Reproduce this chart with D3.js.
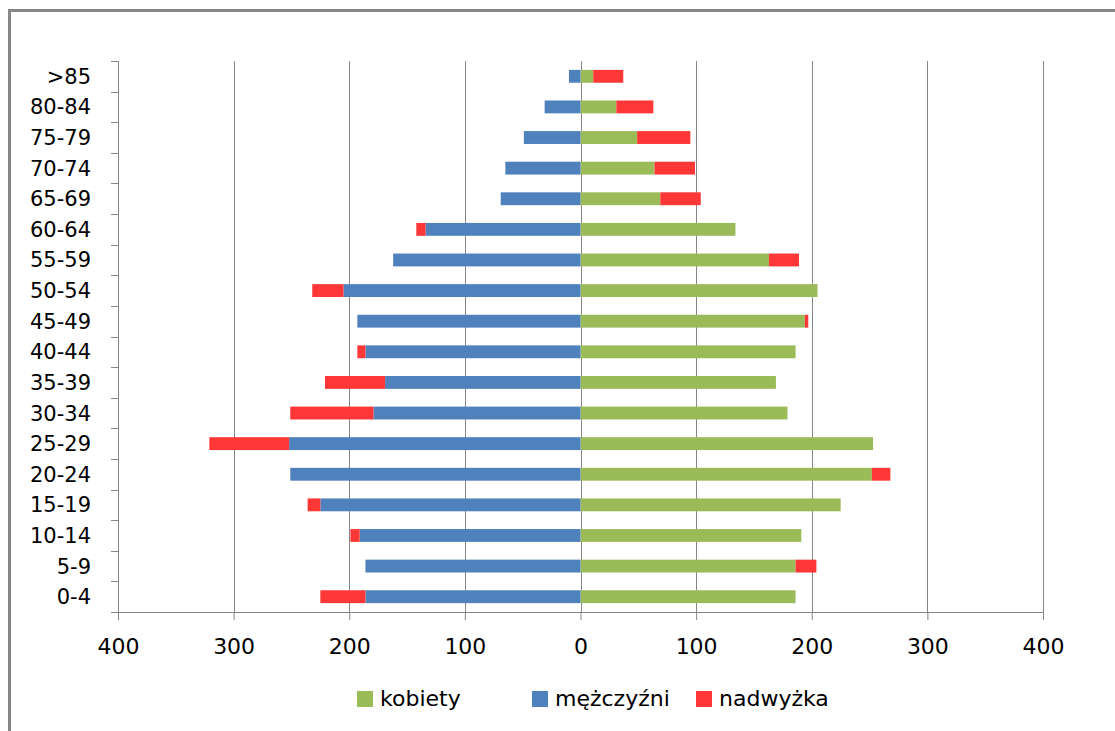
<!DOCTYPE html>
<html>
<head>
<meta charset="utf-8">
<script src="https://cdn.jsdelivr.net/npm/d3@7"></script>
<style>
  html, body { margin: 0; padding: 0; background: #fff; }
  svg { display: block; }
  text { font-family: "DejaVu Sans", sans-serif; fill: #000; }
</style>
</head>
<body>
<svg id="chart" width="1115" height="731"></svg>
<script>
// Age groups (bottom to top as in the source sheet)
const categories = ["0-4","5-9","10-14","15-19","20-24","25-29","30-34","35-39","40-44",
                    "45-49","50-54","55-59","60-64","65-69","70-74","75-79","80-84",">85"];
// kobiety (women, right side)
const kobiety    = [186,186,191,225,252,253,179,169,186,194,205,163,134,69,64,49,31,11];
// mężczyźni (men, left side)
const mezczyzni  = [186,186,191,225,251,252,179,169,186,193,205,162,134,69,65,49,31,10];
// nadwyżka (surplus: positive = women side, negative = men side)
const nadwyzka   = [-39,18,-8,-11,16,-69,-72,-52,-7,3,-27,26,-8,35,35,46,32,26];
// axis ticks
const xTicks = [-400,-300,-200,-100,0,100,200,300,400];
const seriesNames = ["kobiety","mężczyźni","nadwyżka"];
const colors = { "kobiety": "#9BBB59", "mężczyźni": "#4F81BD", "nadwyżka": "#FF3737" };

(function draw() {
const svg = d3.select("#chart");

// outer frame (extends beyond the visible area, as in the reference)
svg.append("rect")
  .attr("x", 9.5).attr("y", 10.5)
  .attr("width", 1200).attr("height", 800)
  .attr("fill", "none").attr("stroke", "#878787").attr("stroke-width", 3);

const pLeft = 118, pRight = 1043, pTop = 61, pBottom = 612;

const x = d3.scaleLinear().domain([-400, 400]).range([pLeft, pRight]);
const y = d3.scaleBand()
  .domain(categories.slice().reverse())
  .range([pTop, pBottom])
  .paddingInner(0.58).paddingOuter(0.29);

const axisColor = "#868686";

// vertical gridlines
svg.append("g").selectAll("line").data(xTicks).join("line")
  .attr("x1", d => Math.round(x(d)) + 0.5).attr("x2", d => Math.round(x(d)) + 0.5)
  .attr("y1", pTop).attr("y2", pBottom)
  .attr("stroke", axisColor).attr("stroke-width", 1);

const rows = categories.map((c, i) => ({ c, k: kobiety[i], m: mezczyzni[i], n: nadwyzka[i] }));

const g = svg.append("g");
g.selectAll("rect.k").data(rows).join("rect").attr("class", "k")
  .attr("x", x(0)).attr("y", d => y(d.c))
  .attr("width", d => x(d.k) - x(0)).attr("height", y.bandwidth())
  .attr("fill", colors["kobiety"]);
g.selectAll("rect.m").data(rows).join("rect").attr("class", "m")
  .attr("x", d => x(-d.m)).attr("y", d => y(d.c))
  .attr("width", d => x(0) - x(-d.m)).attr("height", y.bandwidth())
  .attr("fill", colors["mężczyźni"]);
g.selectAll("rect.n").data(rows).join("rect").attr("class", "n")
  .attr("x", d => d.n >= 0 ? x(d.k) : x(-d.m + d.n))
  .attr("y", d => y(d.c))
  .attr("width", d => Math.abs(x(d.n) - x(0)))
  .attr("height", y.bandwidth())
  .attr("fill", colors["nadwyżka"]);

// x axis
const xAxis = d3.axisBottom(x).tickValues(xTicks).tickSize(8).tickPadding(10)
  .tickFormat(d => Math.abs(d));
const gx = svg.append("g").attr("transform", `translate(0,${pBottom})`).call(xAxis);
gx.select(".domain").attr("stroke", axisColor).attr("d", `M${pLeft},0.5H${pRight}`);
gx.selectAll(".tick line").attr("stroke", axisColor);
gx.selectAll(".tick text").attr("font-size", 22).attr("font-family", "DejaVu Sans, sans-serif")
  .attr("fill", "#000").attr("dy", "0.71em").attr("y", 26);

// y axis
const gy = svg.append("g");
gy.append("line")
  .attr("x1", pLeft + 0.5).attr("x2", pLeft + 0.5).attr("y1", pTop).attr("y2", pBottom)
  .attr("stroke", axisColor);
const bounds = d3.range(categories.length + 1).map(i => pTop + i * (pBottom - pTop) / categories.length);
gy.selectAll("line.t").data(bounds).join("line").attr("class", "t")
  .attr("x1", pLeft - 7).attr("x2", pLeft).attr("y1", d => Math.round(d) + 0.5).attr("y2", d => Math.round(d) + 0.5)
  .attr("stroke", axisColor);
gy.selectAll("text").data(categories).join("text")
  .attr("x", 91).attr("y", d => y(d) + y.bandwidth() / 2 + 7.5)
  .attr("text-anchor", "end").attr("font-size", 21)
  .text(d => d);

// legend
const legendItems = [
  { name: "kobiety", x: 357 },
  { name: "mężczyźni", x: 532 },
  { name: "nadwyżka", x: 696 }
];
const lg = svg.append("g");
lg.selectAll("rect").data(legendItems).join("rect")
  .attr("x", d => d.x).attr("y", 691).attr("width", 16).attr("height", 16)
  .attr("fill", d => colors[d.name]);
lg.selectAll("text").data(legendItems).join("text")
  .attr("x", d => d.x + 23).attr("y", 706).attr("font-size", 22)
  .text(d => d.name);
})();
</script>
</body>
</html>
